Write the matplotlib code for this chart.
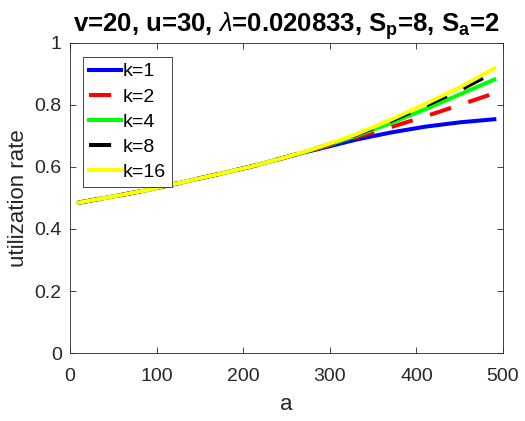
import numpy as np
import matplotlib.pyplot as plt

plt.rcParams['font.family'] = ['Liberation Sans', 'DejaVu Sans']
plt.rcParams['mathtext.fontset'] = 'custom'
plt.rcParams['mathtext.rm'] = 'Liberation Sans'
plt.rcParams['mathtext.it'] = 'Liberation Sans:italic'
plt.rcParams['mathtext.bf'] = 'Liberation Sans:bold'

# sample points along a
a = [10, 50, 90, 130, 170, 210, 250, 270, 290, 330, 370, 410, 450, 490]

# utilization rate for each k
u_k1 = [0.485, 0.505, 0.526, 0.551, 0.576, 0.602, 0.632, 0.647, 0.660, 0.688, 0.711, 0.730, 0.744, 0.754]
u_k2 = [0.485, 0.505, 0.526, 0.551, 0.576, 0.602, 0.632, 0.648, 0.662, 0.695, 0.728, 0.763, 0.800, 0.838]
u_k4 = [0.485, 0.505, 0.526, 0.551, 0.576, 0.602, 0.632, 0.648, 0.664, 0.700, 0.741, 0.786, 0.834, 0.882]
u_k8 = [0.485, 0.505, 0.526, 0.551, 0.576, 0.602, 0.632, 0.648, 0.665, 0.703, 0.748, 0.797, 0.848, 0.906]
u_k16 = [0.485, 0.505, 0.526, 0.551, 0.576, 0.602, 0.632, 0.649, 0.666, 0.705, 0.752, 0.803, 0.857, 0.918]

labels = ['k=1', 'k=2', 'k=4', 'k=8', 'k=16']
colors = ['#0000ff', '#ff0000', '#00ff00', '#000000', '#ffff00']
styles = ['-', (0, (5.5, 4.5)), '-', (0, (5.5, 4.5)), '-']

fig = plt.figure(figsize=(5.25, 4.21), dpi=100)
ax = fig.add_axes([0.1333, 0.1615, 0.8248, 0.7364])

for y, lab, c, ls in zip([u_k1, u_k2, u_k4, u_k8, u_k16], labels, colors, styles):
    ax.plot(a, y, color=c, linestyle=ls, linewidth=2.9, label=lab)

ax.set_xlim(0, 500)
ax.set_ylim(0, 1)
ax.set_xticks([0, 100, 200, 300, 400, 500])
ax.set_yticks([0, 0.2, 0.4, 0.6, 0.8, 1])
ax.set_yticklabels(['0', '0.2', '0.4', '0.6', '0.8', '1'])

for s in ax.spines.values():
    s.set_color('#262626')
    s.set_linewidth(0.6)
ax.tick_params(direction='in', top=True, right=True, length=4, width=0.6,
               colors='#262626', labelsize=14)
ax.tick_params(axis='x', pad=11)
ax.tick_params(axis='y', pad=6)

ax.set_xlabel('a', fontsize=16, color='#262626', labelpad=6)
ax.set_ylabel('utilization rate', fontsize=16, color='#262626')
ax.set_title(r'v=20, u=30, $\lambda$=0.020833, S$_\mathbf{p}$=8, S$_\mathbf{a}$=2',
             fontsize=18.5, fontweight='bold', pad=8)

leg = ax.legend(loc='upper left', bbox_to_anchor=(0.03, 0.955), borderaxespad=0,
                fontsize=14, handlelength=1.65, handletextpad=0.1, labelspacing=0.39,
                borderpad=0.3, fancybox=False, framealpha=1)
leg.get_frame().set_edgecolor('#262626')
leg.get_frame().set_linewidth(0.6)

fig.savefig('out.png', dpi=100)
